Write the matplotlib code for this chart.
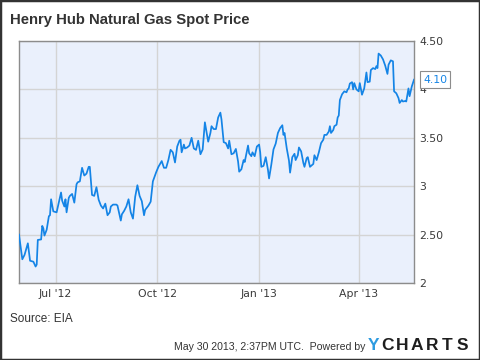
import matplotlib
matplotlib.use('Agg')
import matplotlib.pyplot as plt
import matplotlib.dates as mdates
import pandas as pd
from matplotlib.ticker import FuncFormatter
from matplotlib.patches import Rectangle

# Henry Hub spot price, $/MMBtu
dates = [
    "2012-05-29", "2012-06-01", "2012-06-03", "2012-06-06", "2012-06-08", "2012-06-11", "2012-06-13",
    "2012-06-14", "2012-06-15", "2012-06-18", "2012-06-19", "2012-06-20", "2012-06-21", "2012-06-23",
    "2012-06-25", "2012-06-26", "2012-06-27", "2012-06-29",
    "2012-07-02", "2012-07-04", "2012-07-06", "2012-07-07", "2012-07-09", "2012-07-10", "2012-07-11",
    "2012-07-13", "2012-07-14", "2012-07-16", "2012-07-18", "2012-07-20", "2012-07-21", "2012-07-23",
    "2012-07-25", "2012-07-27", "2012-07-29", "2012-07-31",
    "2012-08-01", "2012-08-03", "2012-08-05", "2012-08-07", "2012-08-09", "2012-08-11", "2012-08-13",
    "2012-08-15", "2012-08-17", "2012-08-19", "2012-08-20", "2012-08-22", "2012-08-25", "2012-08-26",
    "2012-08-29", "2012-08-30",
    "2012-09-01", "2012-09-03", "2012-09-05", "2012-09-07", "2012-09-09", "2012-09-11", "2012-09-13",
    "2012-09-15", "2012-09-17", "2012-09-19", "2012-09-20", "2012-09-23", "2012-09-25", "2012-09-27",
    "2012-09-30",
    "2012-10-02", "2012-10-03", "2012-10-05", "2012-10-07", "2012-10-09", "2012-10-11", "2012-10-13",
    "2012-10-15", "2012-10-17", "2012-10-19", "2012-10-21", "2012-10-22", "2012-10-23", "2012-10-25",
    "2012-10-26", "2012-10-28", "2012-10-30",
    "2012-11-01", "2012-11-03", "2012-11-05", "2012-11-07", "2012-11-09", "2012-11-11", "2012-11-13",
    "2012-11-16", "2012-11-18", "2012-11-19", "2012-11-21", "2012-11-23", "2012-11-25", "2012-11-27",
    "2012-11-28", "2012-11-30",
    "2012-12-02", "2012-12-04", "2012-12-05", "2012-12-07", "2012-12-09", "2012-12-11", "2012-12-13",
    "2012-12-14", "2012-12-16", "2012-12-18", "2012-12-19", "2012-12-22", "2012-12-23", "2012-12-25",
    "2012-12-26", "2012-12-28", "2012-12-30",
    "2013-01-01", "2013-01-02", "2013-01-03", "2013-01-05", "2013-01-07", "2013-01-09", "2013-01-10",
    "2013-01-12", "2013-01-14", "2013-01-16", "2013-01-18", "2013-01-20", "2013-01-22", "2013-01-23",
    "2013-01-24", "2013-01-26", "2013-01-28", "2013-01-29", "2013-01-31",
    "2013-02-02", "2013-02-03", "2013-02-05", "2013-02-06", "2013-02-08", "2013-02-10", "2013-02-11",
    "2013-02-13", "2013-02-14", "2013-02-16", "2013-02-17", "2013-02-19", "2013-02-20", "2013-02-22",
    "2013-02-24", "2013-02-26", "2013-02-28",
    "2013-03-01", "2013-03-03", "2013-03-05", "2013-03-06", "2013-03-07", "2013-03-09", "2013-03-10",
    "2013-03-12", "2013-03-13", "2013-03-14", "2013-03-15", "2013-03-17", "2013-03-19", "2013-03-21",
    "2013-03-22", "2013-03-23", "2013-03-24", "2013-03-26", "2013-03-27", "2013-03-28", "2013-03-30",
    "2013-04-01", "2013-04-02", "2013-04-04", "2013-04-06", "2013-04-08", "2013-04-09", "2013-04-11",
    "2013-04-12", "2013-04-14", "2013-04-16", "2013-04-17", "2013-04-18", "2013-04-19", "2013-04-21",
    "2013-04-23", "2013-04-25", "2013-04-27", "2013-04-28", "2013-04-30",
    "2013-05-02", "2013-05-03", "2013-05-05", "2013-05-07", "2013-05-08", "2013-05-10", "2013-05-11",
    "2013-05-13", "2013-05-14", "2013-05-16", "2013-05-17", "2013-05-19", "2013-05-21",
]
price = [
    2.50, 2.245, 2.29, 2.41, 2.23, 2.22, 2.17, 2.19, 2.445, 2.45, 2.59, 2.565, 2.49, 2.55, 2.69, 2.70, 2.865, 2.74,
    2.73, 2.83, 2.935, 2.85, 2.79, 2.865, 2.73, 2.88, 2.90, 2.92, 2.83, 3.02, 3.04, 3.05, 3.19, 3.11, 3.13, 3.20,
    3.20, 2.91, 2.90, 2.99, 2.86, 2.80, 2.77, 2.82, 2.70, 2.73, 2.79, 2.81, 2.81, 2.80, 2.645, 2.71,
    2.745, 2.79, 2.865, 2.73, 2.665, 2.89, 3.01, 2.90, 2.845, 2.70, 2.755, 2.80, 2.84, 3.05, 3.145,
    3.20, 3.22, 3.26, 3.19, 3.19, 3.27, 3.376, 3.35, 3.245, 3.41, 3.47, 3.48, 3.35, 3.43, 3.39, 3.40, 3.42,
    3.50, 3.39, 3.375, 3.47, 3.33, 3.38, 3.66, 3.46, 3.55, 3.62, 3.59, 3.59, 3.71, 3.76, 3.69, 3.455,
    3.445, 3.39, 3.47, 3.33, 3.34, 3.385, 3.255, 3.15, 3.175, 3.27, 3.25, 3.42, 3.34, 3.31, 3.35, 3.31, 3.41,
    3.43, 3.35, 3.20, 3.21, 3.30, 3.17, 3.08, 3.22, 3.38, 3.44, 3.55, 3.60, 3.63, 3.53, 3.55, 3.39, 3.265, 3.14, 3.30,
    3.335, 3.27, 3.32, 3.40, 3.36, 3.24, 3.20, 3.29, 3.30, 3.20, 3.21, 3.23, 3.32, 3.27, 3.35, 3.445, 3.48,
    3.53, 3.53, 3.565, 3.62, 3.55, 3.58, 3.62, 3.635, 3.71, 3.73, 3.89, 3.95, 3.98, 3.97, 4.00, 4.01, 4.06,
    4.075, 4.00, 4.065, 4.00,
    3.98, 4.065, 3.945, 4.01, 4.175, 4.075, 4.08, 4.20, 4.22, 4.21, 4.24, 4.22, 4.37, 4.35, 4.31, 4.245,
    4.16, 4.255, 4.30,
    4.29, 3.98, 3.96, 3.91, 3.86, 3.89, 3.875, 3.88, 3.875, 4.01, 3.93, 4.03, 4.10,
]
yticks = [2, 2.5, 3, 3.5, 4, 4.5]

title = "Henry Hub Natural Gas Spot Price"
source = "Source: EIA"
stamp = "May 30 2013, 2:37PM UTC.  Powered by"

dt = pd.to_datetime(dates)

fig = plt.figure(figsize=(4.8, 3.6), dpi=100)
ax = fig.add_axes([19 / 480, 77 / 360, 395 / 480, 242 / 360])
ax.set_facecolor('#EAF0FC')
ax.plot(dt, price, color='#1484E6', lw=1.25, zorder=3)
ax.set_xlim(dt[0], dt[-1])
ax.set_ylim(2, 4.5)

ax.xaxis.set_major_locator(mdates.MonthLocator(bymonth=[1, 4, 7, 10]))
ax.xaxis.set_major_formatter(mdates.DateFormatter("%b '%y"))
ax.yaxis.tick_right()
ax.set_yticks(yticks)
ax.yaxis.set_major_formatter(FuncFormatter(lambda v, p: '%d' % v if v == int(v) else '%.2f' % v))
ax.grid(True, color='#D4D4D4', lw=1)
ax.tick_params(axis='both', length=0, labelsize=7.8, colors='#3A3A3A')
ax.tick_params(axis='x', pad=4.5)
ax.tick_params(axis='y', pad=4)
for s in ax.spines.values():
    s.set_color('#8C8C8C')
    s.set_linewidth(1)

# last value flag
ax.annotate('%.2f' % price[-1], xy=(1, price[-1]), xycoords=('axes fraction', 'data'),
            xytext=(6.5, 0), textcoords='offset points', va='center', ha='left',
            fontsize=7.8, color='#1484E6',
            bbox=dict(boxstyle='square,pad=0.3', fc='white', ec='#8C8C8C', lw=0.8))

fig.text(10 / 480, 1 - 20 / 360, title, fontsize=10.7, fontweight='bold',
         family='Liberation Sans', color='#333333', va='center', ha='left')
fig.text(10 / 480, 1 - 319 / 360, source, fontsize=8.5, family='Liberation Sans',
         color='#333333', va='center', ha='left')
fig.text(365 / 480, 1 - 347 / 360, stamp, fontsize=7.6, family='Liberation Sans',
         color='#333333', va='center', ha='right')

# YCHARTS logo
fig.text(373.5 / 480, 1 - 346 / 360, 'Y', fontsize=12.5, fontweight='bold', family='Liberation Sans',
         color='#2D9BE0', va='center', ha='center')
for i, ch in enumerate('CHARTS'):
    fig.text((387 + 15.1 * i) / 480, 1 - 346 / 360, ch, fontsize=12.5, fontweight='bold',
             family='Liberation Sans', color='#1E1E1E', va='center', ha='center')

fig.patches.append(Rectangle((0, 0), 1, 1, transform=fig.transFigure, fill=False,
                             edgecolor='#333333', lw=2.5))

fig.savefig('out.png', dpi=100)
